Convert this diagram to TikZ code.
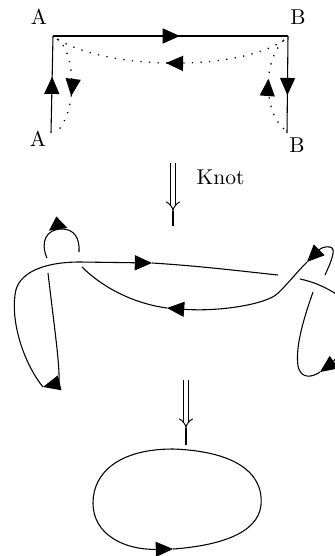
\documentclass[tikz,border=0pt]{standalone}
\usetikzlibrary{arrows.meta, decorations.markings}

\tikzset{
  headtip/.style={-{Triangle[length=8pt, width=7pt]}},
  arrowat/.style={postaction={decorate}, decoration={markings,
      mark=at position #1 with {\arrow{Triangle[length=8pt, width=7pt]}}}},
  uptip/.style={postaction={decorate}, decoration={markings,
      mark=at position #1 with {\arrow[rotate=90, xshift=6pt]{Triangle[length=6pt, width=8.5pt]}}}},
  dotline/.style={line width=0.6pt, dash pattern=on 0.6pt off 3.4pt},
  imply/.style={double, double distance=1.9pt, line width=0.45pt, -{Implies[scale=1.7]}},
}

\begin{document}
\begin{tikzpicture}[x=0.465pt, y=-0.465pt, line width=0.5pt]
  \useasboundingbox (0,0) rectangle (335,556);
  \clip (0,0) rectangle (335,556);

  % band with ends A and B
  \coordinate (a0) at (51,133);
  \coordinate (a1) at (53,36);
  \coordinate (b1) at (288,36);
  \coordinate (b0) at (287,133);
  \coordinate (da1) at (57,39);
  \coordinate (da0) at (56,133);
  \coordinate (db1) at (284,40);
  \coordinate (db0) at (284,129);
  \node (A1) at (39,17) {A};
  \node (B1) at (298,17) {B};
  \node (A0) at (38,139) {A};
  \node (B0) at (297,145) {B};
  \draw[arrowat=0.58] (a0) -- (a1);
  \draw[arrowat=0.54] (a1) -- (b1);
  \draw[arrowat=0.61] (b1) -- (b0);
  \draw[dotline, arrowat=0.6] (da1) .. controls (75,50) and (79,110) .. (da0);
  \draw[dotline, arrowat=0.52] (db1) .. controls (240,71) and (110,71) .. (da1);
  \draw[dotline, arrowat=0.56] (db0) .. controls (264,112) and (262,62) .. (db1);

  % first step
  \coordinate (k0) at (173,163);
  \coordinate (kv) at (173,211);
  \coordinate (k1) at (173,226);
  \draw[imply] (k0) -- (kv);
  \draw (kv) -- (k1);
  \node[right] (knotlbl) at (189,177) {Knot};

  % the knot, left lobes
  \draw[headtip] (48,273) .. controls (54,325) and (60,365) .. (59,383) -- (43,387);
  \draw[headtip] (43,387) .. controls (25,365) and (11,325) .. (15,295)
    .. controls (17,272) and (45,262) .. (80,262) -- (152,263);
  \draw (152,263) .. controls (200,266) and (240,271) .. (278,275);
  \draw[uptip=0.5] (47,258) .. controls (40,242) and (46,229) .. (62,229)
    .. controls (74,229) and (80,238) .. (79,252);
  \draw[headtip] (307,262) .. controls (297,272) and (285,287) .. (277,294)
    .. controls (266,304) and (220,312) .. (167,308);
  \draw (167,308) .. controls (130,303) and (100,285) .. (82,267);

  % the knot, right lobes
  \draw[headtip] (325,275) .. controls (331,262) and (337,248) .. (330,247)
    .. controls (324,246) and (320,249) .. (307,262);
  \draw (300,279) .. controls (315,282) and (330,289) .. (345,300);
  \draw[headtip] (348,345) .. controls (338,355) and (330,365) .. (320,372);
  \draw (320,372) .. controls (313,377) and (301,380) .. (298,366)
    .. controls (295,345) and (305,315) .. (313,292);

  % second step
  \coordinate (k2) at (186,380);
  \coordinate (kw) at (186,428);
  \coordinate (k3) at (186,445);
  \draw[imply] (k2) -- (kw);
  \draw (kw) -- (k3);

  % unknot
  \coordinate (ub) at (173,549);
  \coordinate (ur) at (261,505);
  \coordinate (ut) at (173,449);
  \coordinate (ul) at (93,503);
  \draw (ub) .. controls (215,546) and (258,535) .. (ur)
    .. controls (264,470) and (230,451) .. (ut)
    .. controls (120,449) and (93,472) .. (ul);
  \draw[headtip] (ul) .. controls (93,535) and (125,550) .. (ub);
\end{tikzpicture}
\end{document}
